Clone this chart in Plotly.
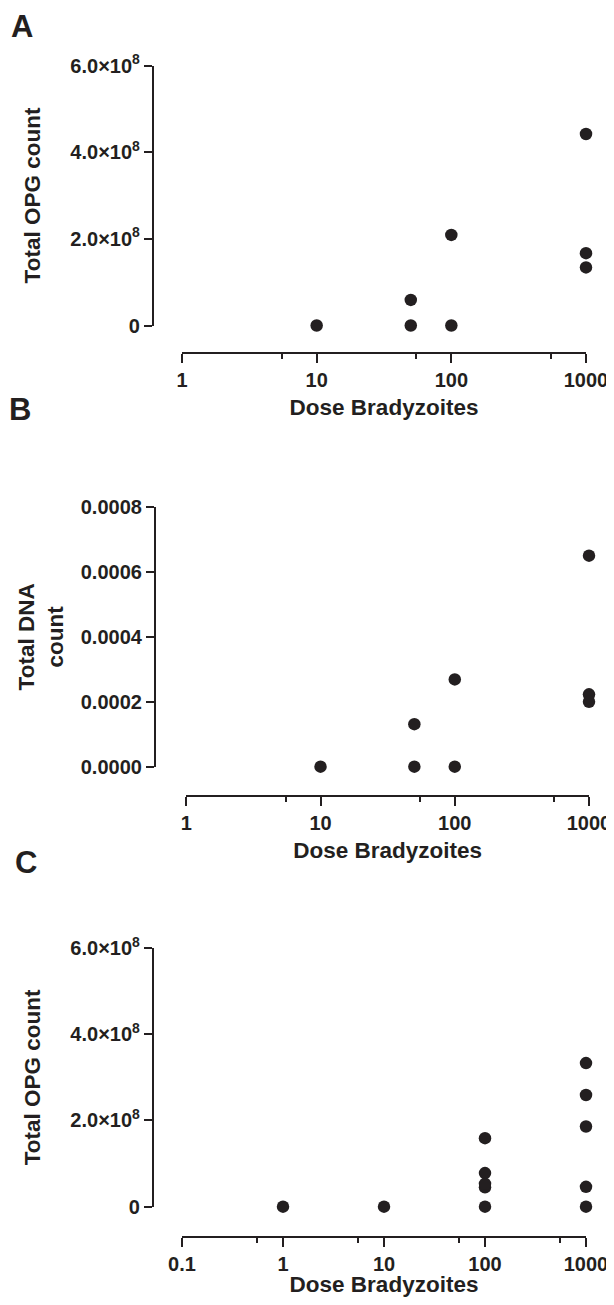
import plotly.graph_objects as go

# ---------------- data ----------------
# Panel A
a_dose = [10, 50, 50, 100, 100, 1000, 1000, 1000]
a_opg = [0, 0, 0.59e8, 0, 2.09e8, 4.42e8, 1.67e8, 1.34e8]
# Panel B
b_dose = [10, 50, 50, 100, 100, 1000, 1000, 1000]
b_dna = [0, 0, 0.000131, 0, 0.000269, 0.00065, 0.000223, 0.000200]
# Panel C
c_dose = [1, 10, 100, 100, 100, 100, 100, 1000, 1000, 1000, 1000, 1000]
c_opg = [0, 0, 0, 0.45e8, 0.53e8, 0.78e8, 1.59e8, 0, 0.46e8, 1.86e8, 2.59e8, 3.33e8]

opg_tickvals = [0, 2e8, 4e8, 6e8]
opg_ticktext = ["0", "2.0×10<sup>8</sup>", "4.0×10<sup>8</sup>", "6.0×10<sup>8</sup>"]
dna_tickvals = [0, 0.0002, 0.0004, 0.0006, 0.0008]
dna_ticktext = ["0.0000", "0.0002", "0.0004", "0.0006", "0.0008"]
x_tickvals_ab = [1, 10, 100, 1000]
x_ticktext_ab = ["1", "10", "100", "1000"]
x_minor_ab = [5.5, 55, 550]
x_tickvals_c = [0.1, 1, 10, 100, 1000]
x_ticktext_c = ["0.1", "1", "10", "100", "1000"]
x_minor_c = [0.55, 5.5, 55, 550]

x_title = "Dose Bradyzoites"
y_title_a = "Total OPG count"
y_title_b = "Total DNA<br>count"
y_title_c = "Total OPG count"
panel_letters = ["A", "B", "C"]

# ---------------- layout helpers ----------------
PAGE_MARGIN = 8          # default body margin of the html page
W, H = 614 - PAGE_MARGIN, 1305 - 2 * PAGE_MARGIN
FONT = "Liberation Sans, Arial, sans-serif"
INK = "#231f20"


def px_x(x):
    return (x - PAGE_MARGIN) / W


def px_y(y):
    return 1 - (y - PAGE_MARGIN) / H


tickfont = dict(family=FONT, size=20, color=INK, weight="bold")
titlefont = dict(family=FONT, size=22.5, color=INK, weight="bold")

fig = go.Figure()

marker = dict(size=12.5, color=INK)
fig.add_trace(go.Scatter(x=a_dose, y=a_opg, mode="markers", marker=marker,
                         xaxis="x", yaxis="y", cliponaxis=False, showlegend=False))
fig.add_trace(go.Scatter(x=b_dose, y=b_dna, mode="markers", marker=marker,
                         xaxis="x2", yaxis="y2", cliponaxis=False, showlegend=False))
fig.add_trace(go.Scatter(x=c_dose, y=c_opg, mode="markers", marker=marker,
                         xaxis="x3", yaxis="y3", cliponaxis=False, showlegend=False))


def xaxis_def(x0, x1, ypos, rng, tv, tt, minor, standoff=8):
    return dict(
        domain=[px_x(x0), px_x(x1)], anchor="free", position=px_y(ypos),
        type="log", range=rng, showgrid=False, zeroline=False,
        showline=True, linecolor=INK, linewidth=2.2,
        ticks="outside", ticklen=9, tickwidth=2.2, tickcolor=INK,
        tickvals=tv, ticktext=tt, tickfont=tickfont, ticklabeloverflow="allow",
        minor=dict(tickvals=minor, ticks="outside", ticklen=5, tickwidth=2.2,
                   tickcolor=INK, showgrid=False),
        title=dict(text=x_title, font=titlefont, standoff=standoff),
        automargin=False, fixedrange=True,
    )


def yaxis_def(y0, y1, xpos, rng, tv, tt, standoff):
    return dict(
        domain=[px_y(y0), px_y(y1)], anchor="free", position=px_x(xpos),
        range=rng, showgrid=False, zeroline=False,
        showline=True, linecolor=INK, linewidth=2.2,
        ticks="outside", ticklen=8, tickwidth=2.2, tickcolor=INK,
        tickvals=tv, ticktext=tt, tickfont=tickfont, ticklabeloverflow="allow",
        title=dict(font=titlefont, standoff=standoff),
        automargin=False, fixedrange=True,
    )


ya = yaxis_def(325.5, 65.5, 153, [0, 6e8], opg_tickvals, opg_ticktext, 22)
ya["title"]["text"] = y_title_a
yb = yaxis_def(766.7, 507, 155, [0, 0.0008], dna_tickvals, dna_ticktext, 10)
yb["title"]["text"] = y_title_b
yc = yaxis_def(1206.7, 948, 153, [0, 6e8], opg_tickvals, opg_ticktext, 22)
yc["title"]["text"] = y_title_c

fig.update_layout(
    width=W, height=H,
    margin=dict(l=0, r=0, t=0, b=0, pad=0, autoexpand=False),
    paper_bgcolor="white", plot_bgcolor="white",
    font=dict(family=FONT, color=INK),
    showlegend=False,
    xaxis=xaxis_def(182, 586, 353, [0, 3], x_tickvals_ab, x_ticktext_ab, x_minor_ab),
    yaxis=ya,
    xaxis2=xaxis_def(186.3, 589, 796, [0, 3], x_tickvals_ab, x_ticktext_ab, x_minor_ab),
    yaxis2=yb,
    xaxis3=xaxis_def(182, 586, 1236.7, [-1, 3], x_tickvals_c, x_ticktext_c, x_minor_c, 4),
    yaxis3=yc,
)

letter_pos = [(22, 26), (20, 410), (26, 862)]
for letter, (lx, ly) in zip(panel_letters, letter_pos):
    fig.add_annotation(text=letter, x=px_x(lx), y=px_y(ly), xref="paper", yref="paper",
                       showarrow=False, xanchor="center", yanchor="middle",
                       font=dict(family=FONT, size=31, color=INK, weight="bold"))

fig.write_html("out.html")
